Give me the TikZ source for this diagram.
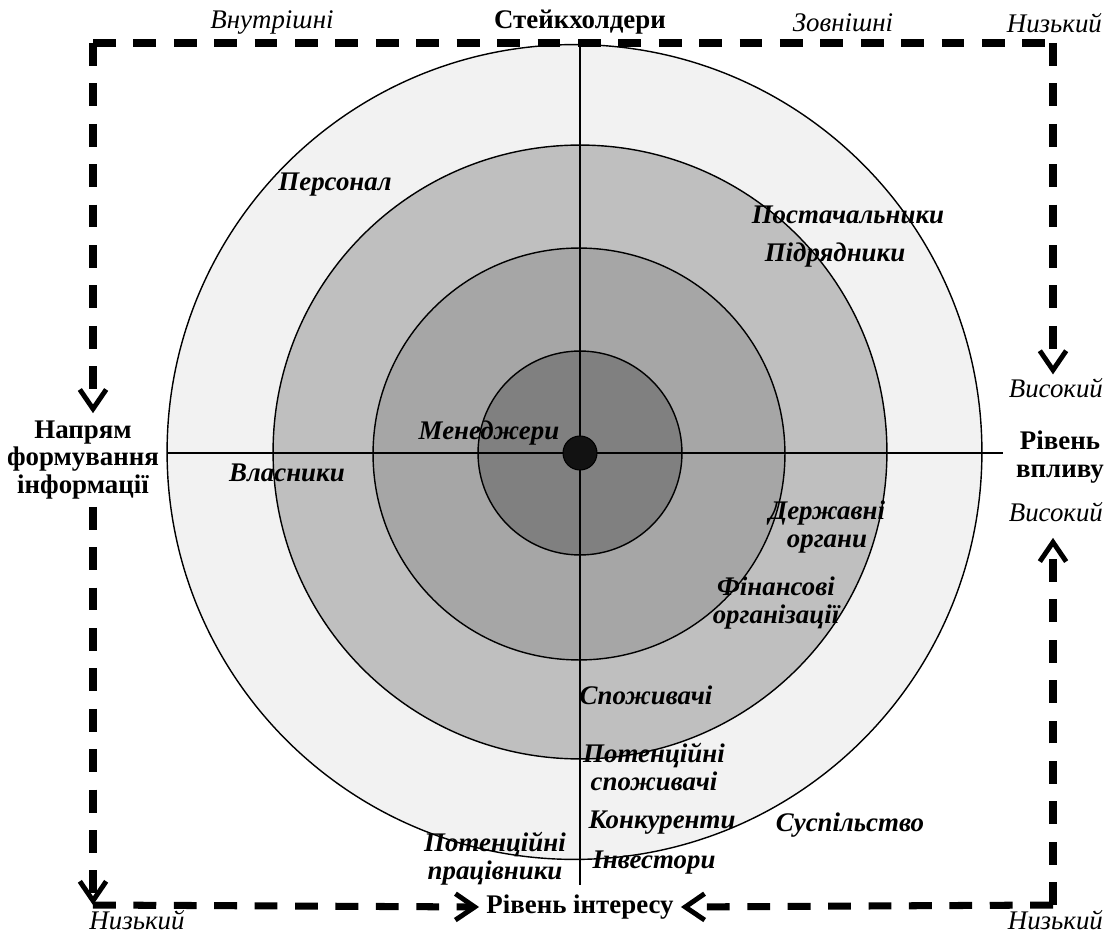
\documentclass[tikz,border=0pt]{standalone}
\usepackage{fontspec}
\setmainfont{Liberation Serif}
\usepackage{xcolor}
\usetikzlibrary{positioning, arrows.meta}

\definecolor{ringA}{HTML}{F2F2F2}
\definecolor{ringB}{HTML}{BFBFBF}
\definecolor{ringC}{HTML}{A6A6A6}
\definecolor{ringD}{HTML}{808080}

\begin{document}
\begin{tikzpicture}[
			x=0.02cm, y=-0.02cm,
			ring/.style={circle, draw, line width=0.8pt, inner sep=0pt},
			who/.style={font=\fontsize{15.3}{15.8}\selectfont\bfseries\itshape, align=center, inner sep=1pt},
			level/.style={font=\fontsize{15.3}{15.8}\selectfont\itshape, inner sep=1pt},
			axis/.style={font=\fontsize{15.3}{15.8}\selectfont\bfseries, align=center, inner sep=2pt},
			frame/.style={line width=4pt, dash pattern=on 13pt off 10pt},
			arrow/.style={frame, -{Straight Barb[length=11pt, width=15pt, line width=2.8pt]}}
			]
			\useasboundingbox (0,0) rectangle (1107,936);
			
			% Circles
			\node[ring, fill=ringA, minimum size=16.3cm] (outer) at (574.5,452) {};
			\node[ring, fill=ringB, minimum size=12.28cm] (second) at (580,452) {};
			\node[ring, fill=ringC, minimum size=8.24cm] (third) at (579,454) {};
			\node[ring, fill=ringD, minimum size=4.08cm] (inner) at (580,453) {};
			
			% Axes
			\coordinate (axtop) at (580,43);
			\coordinate (axbot) at (580,885);
			\coordinate (axleft) at (167,453);
			\coordinate (axright) at (1003,453);
			\draw[line width=1pt] (axtop) -- (axbot);
			\draw[line width=1pt] (axleft) -- (axright);
			\node[circle, fill=black!93, draw, line width=0.6pt, minimum size=0.68cm, inner sep=0pt] (dot) at (580,453) {};
			
			% Stakeholders
			\node[who] (staff) at (335,185) {Персонал};
			\node[who] (suppliers) at (848,215) {Постачальники};
			\node[who, below=0.3cm of suppliers, xshift=-0.26cm] (contractors) {Підрядники};
			\node[who] (managers) at (489,433) {Менеджери};
			\node[who] (owners) at (287,473) {Власники};
			\node[who] (state) at (827,527) {Державні\\органи};
			\node[who] (finance) at (776,603) {Фінансові\\організації};
			\node[who] (consumers) at (646,695) {Споживачі};
			\node[who] (potcons) at (654,767) {Потенційні\\споживачі};
			\node[who] (rivals) at (662,823) {Конкуренти};
			\node[who] (society) at (850,825) {Суспільство};
			\node[who] (potstaff) at (495,859) {Потенційні\\працівники};
			\node[who] (investors) at (654,863) {Інвестори};
			
			% Axis labels
			\node[axis] (stake) at (580,22) {Стейкхолдери};
			\node[axis] (direction) at (83,460) {Напрям\\формування\\інформації};
			\node[axis] (influence) at (1060,457) {Рівень\\впливу};
			\node[axis, inner sep=4pt] (interest) at (580,907) {Рівень інтересу};
			
			\node[level] (inside) at (272,23) {Внутрішні};
			\node[level] (outside) at (843,23) {Зовнішні};
			\node[level, anchor=east] (lowtop) at (1104,23) {Низький};
			\node[level, anchor=east] (hightop) at (1105,388) {Високий};
			\node[level, anchor=east] (highbot) at (1105,512) {Високий};
			\node[level, anchor=east] (lowright) at (1105,920) {Низький};
			\node[level] (lowleft) at (137,920) {Низький};
			
			% Frame
			\coordinate (tl) at (93,43);
			\coordinate (tr) at (1053,43);
			\coordinate (bl) at (93,905);
			\coordinate (br) at (1053,905);
			
			\draw[frame] (tl) -- (tr);
			\draw[arrow] (tl) -- ([yshift=2pt]tl |- direction.north);
			\draw[arrow] ([yshift=-2pt]tl |- direction.south) -- (bl);
			\draw[arrow] (bl) -- (interest.west);
			\draw[arrow] (br) -- (interest.east);
			\draw[arrow] (tr) -- ([yshift=1pt]tr |- hightop.north);
			\draw[arrow] (br) -- ([yshift=-8pt]br |- highbot.south);
			
		\end{tikzpicture}
\end{document}
